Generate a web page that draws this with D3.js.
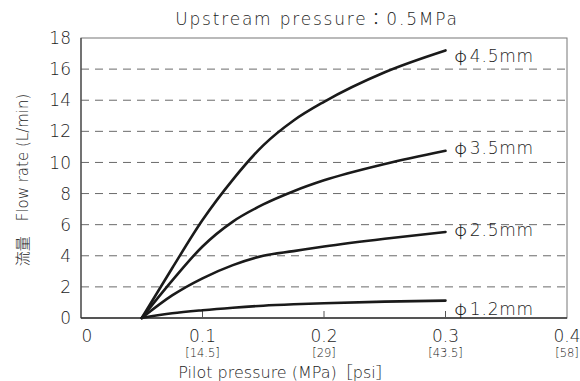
<!DOCTYPE html>
<html>
<head>
<meta charset="utf-8">
<script src="https://cdn.jsdelivr.net/npm/d3@7"></script>
<style>
  html, body { margin: 0; padding: 0; background: #fff; }
  svg text { font-family: "DejaVu Sans", "Noto Sans CJK JP", sans-serif; font-weight: 200; fill: #1c1c1c; }
  svg .cjk { font-family: "Noto Sans CJK JP", sans-serif; }
</style>
</head>
<body>
<svg id="chart" width="580" height="381"></svg>
<script>
// Flow characteristics by orifice size (upstream pressure 0.5 MPa)
const seriesNames = ["4.5mm", "3.5mm", "2.5mm", "1.2mm"];
const pilotPressure = [0.05, 0.075, 0.10, 0.125, 0.15, 0.175, 0.20, 0.25, 0.30];
const flowRate = {
  "4.5mm": [0, 3.2, 6.3, 8.9, 11.1, 12.7, 13.9, 15.8, 17.2],
  "3.5mm": [0, 2.4, 4.6, 6.2, 7.3, 8.15, 8.85, 9.9, 10.75],
  "2.5mm": [0, 1.45, 2.55, 3.4, 4.0, 4.3, 4.6, 5.1, 5.53],
  "1.2mm": [0, 0.3, 0.5, 0.66, 0.79, 0.88, 0.95, 1.05, 1.12]
};
const xTicks = [0, 0.1, 0.2, 0.3, 0.4];
const xTickLabels = ["0", "0.1", "0.2", "0.3", "0.4"];
const psiLabels = ["", "[14.5]", "[29]", "[43.5]", "[58]"];
const yTicks = [0, 2, 4, 6, 8, 10, 12, 14, 16, 18];

const W = 580, H = 381;
const margin = { top: 38, right: 13, bottom: 63, left: 81 };
const svg = d3.select("#chart");

const x = d3.scaleLinear().domain([0, 0.4]).range([margin.left, W - margin.right]);
const y = d3.scaleLinear().domain([0, 18]).range([H - margin.bottom, margin.top]);

// dashed horizontal grid
svg.append("g")
  .selectAll("line")
  .data(yTicks.filter(v => v > 0 && v < 18))
  .join("line")
  .attr("x1", x(0)).attr("x2", x(0.4))
  .attr("y1", d => y(d)).attr("y2", d => y(d))
  .attr("stroke", "#6a6a6a").attr("stroke-width", 1)
  .attr("stroke-dasharray", "8,6");

// frame
svg.append("rect")
  .attr("x", x(0)).attr("y", y(18))
  .attr("width", x(0.4) - x(0)).attr("height", y(0) - y(18))
  .attr("fill", "none").attr("stroke", "#777").attr("stroke-width", 1);
svg.append("line")
  .attr("x1", x(0)).attr("x2", x(0)).attr("y1", y(18)).attr("y2", y(0))
  .attr("stroke", "#444").attr("stroke-width", 1.2);
svg.append("line")
  .attr("x1", x(0)).attr("x2", x(0.4)).attr("y1", y(0)).attr("y2", y(0))
  .attr("stroke", "#333").attr("stroke-width", 1.5);

// inner x tick marks
svg.append("g")
  .selectAll("line")
  .data(xTicks.filter(v => v > 0 && v < 0.4))
  .join("line")
  .attr("x1", d => x(d)).attr("x2", d => x(d))
  .attr("y1", y(0)).attr("y2", y(0) - 7)
  .attr("stroke", "#555").attr("stroke-width", 1);

// y tick labels
svg.append("g")
  .selectAll("text")
  .data(yTicks)
  .join("text")
  .attr("x", x(0) - 10)
  .attr("y", d => y(d))
  .attr("dy", "0.36em")
  .attr("text-anchor", "end")
  .attr("font-size", 17)
  .text(d => d);

// x tick labels (MPa) and psi equivalents
const xl = svg.append("g");
xl.selectAll("text.mpa")
  .data(xTicks)
  .join("text")
  .attr("class", "mpa")
  .attr("x", (d, i) => x(d) + (i === 0 ? 6 : 0))
  .attr("y", 342)
  .attr("text-anchor", "middle")
  .attr("font-size", 17)
  .text((d, i) => xTickLabels[i]);
xl.selectAll("text.psi")
  .data(xTicks)
  .join("text")
  .attr("class", "psi")
  .attr("x", d => x(d))
  .attr("y", 357)
  .attr("text-anchor", "middle")
  .attr("font-size", 11.5)
  .text((d, i) => psiLabels[i]);

// axis titles
svg.append("text")
  .attr("x", 285).attr("y", 378)
  .attr("text-anchor", "middle")
  .attr("font-size", 16)
  .text("Pilot pressure (MPa)［psi］");
svg.append("text")
  .attr("transform", "translate(28,180) rotate(-90)")
  .attr("text-anchor", "middle")
  .attr("font-size", 15)
  .text("流量　Flow rate (L/min)");

// title
svg.append("text")
  .attr("x", 317).attr("y", 25)
  .attr("text-anchor", "middle")
  .attr("font-size", 17)
  .attr("letter-spacing", 1.8)
  .text("Upstream pressure：0.5MPa");

// curves
const line = d3.line()
  .x(d => x(d[0]))
  .y(d => y(d[1]))
  .curve(d3.curveMonotoneX);

const labelDy = [5, -3, -2, 8];
seriesNames.forEach((name, i) => {
  const pts = pilotPressure.map((p, j) => [p, flowRate[name][j]]);
  svg.append("path")
    .datum(pts)
    .attr("d", line)
    .attr("fill", "none")
    .attr("stroke", "#1a1a1a")
    .attr("stroke-width", 2.6)
    .attr("stroke-linecap", "round");
  const last = pts[pts.length - 1];
  const t = svg.append("text")
    .attr("x", x(last[0]) + 9)
    .attr("y", y(last[1]) + labelDy[i])
    .attr("dy", "0.36em")
    .attr("font-size", 17);
  t.append("tspan").attr("class", "cjk").text("φ");
  t.append("tspan").attr("dx", 3).attr("letter-spacing", 0.8).text(name);
});
</script>
</body>
</html>
